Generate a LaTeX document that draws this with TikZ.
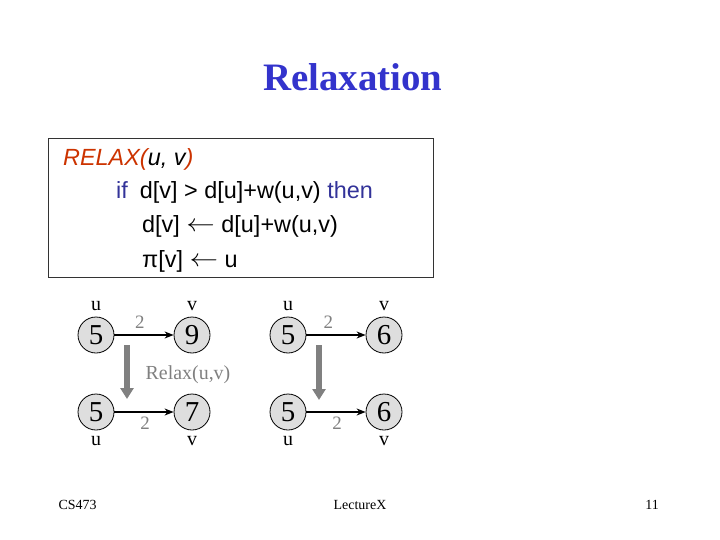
\documentclass[tikz,border=0pt]{standalone}
\usepackage{fontspec}
\setmainfont{Liberation Serif}
\newfontfamily\codefont{Liberation Sans}
\usepackage{xcolor}
\usepackage{tikz}
\usetikzlibrary{arrows.meta, positioning}

\definecolor{titleblue}{RGB}{51,51,204}
\definecolor{keyblue}{RGB}{51,51,153}
\definecolor{relaxred}{RGB}{204,51,0}

\newcommand{\getsarrow}{\raisebox{1bp}{\scalebox{1.15}[1]{$\leftarrow$}}}

\begin{document}
\begin{tikzpicture}[
        x=1bp, y=-1bp,
        vertex/.style={circle, draw=black, thick, fill=black!13, minimum size=36bp, inner sep=0pt, font=\fontsize{29}{29}\selectfont},
        vlabel/.style={inner sep=1bp, font=\fontsize{20}{20}\selectfont},
        weight/.style={text=black!50, inner sep=2bp, font=\fontsize{19}{19}\selectfont},
        edge/.style={-{Stealth[length=9bp, width=7bp]}, line width=1.4bp},
        relaxarrow/.style={-{Triangle[length=11bp, width=13bp]}, line width=6.5bp, draw=black!50},
        codeline/.style={anchor=base west, inner sep=0pt, font=\codefont\fontsize{23.5}{23.5}\selectfont},
        footer/.style={font=\fontsize{14}{14}\selectfont}
    ]
    \useasboundingbox (0,0) rectangle (720,540);

    % Title
    \node (title) at (353,77) {\fontsize{39}{39}\selectfont\bfseries\color{titleblue}Relaxation};

    % Pseudocode box
    \draw[black!80] (48,138) rectangle (433,277);
    \node (relax) [codeline] at (63,166) {\textcolor{relaxred}{\itshape RELAX(}\itshape u, v\textcolor{relaxred}{)}};
    \node (test) [codeline] at (116,199) {\textcolor{keyblue}{if}\hspace{12bp}d[v] > d[u]+w(u,v) \textcolor{keyblue}{then}};
    \node (update) [codeline] at (142,233) {d[v] \getsarrow{} d[u]+w(u,v)};
    \node (pred) [codeline] at (142,268) {π[v] \getsarrow{} u};

    % Left pair: before / after
    \node (u1) [vertex] at (96,335) {5};
    \node (v1) [vertex] at (192,335) {9};
    \node (u2) [vertex] at (96,412) {5};
    \node (v2) [vertex] at (192,412) {7};

    % Right pair: before / after
    \node (u3) [vertex] at (288,335) {5};
    \node (v3) [vertex] at (384,335) {6};
    \node (u4) [vertex] at (288,412) {5};
    \node (v4) [vertex] at (384,412) {6};

    % Vertex names
    \node [vlabel, above=5bp of u1] {u};
    \node [vlabel, above=5bp of v1] {v};
    \node [vlabel, above=5bp of u3] {u};
    \node [vlabel, above=5bp of v3] {v};
    \node [vlabel, below=5bp of u2] {u};
    \node [vlabel, below=5bp of v2] {v};
    \node [vlabel, below=5bp of u4] {u};
    \node [vlabel, below=5bp of v4] {v};

    % Edges
    \draw [edge] (u1) -- (v1) node[weight, pos=0.43, above=4bp] {2};
    \draw [edge] (u2) -- (v2) node[weight, pos=0.52, below=2bp] {2};
    \draw [edge] (u3) -- (v3) node[weight, pos=0.37, above=4bp] {2};
    \draw [edge] (u4) -- (v4) node[weight, pos=0.52, below=2bp] {2};

    % Relax steps
    \coordinate (s1) at (127,345);
    \coordinate (e1) at (127,399);
    \coordinate (s2) at (319,345);
    \coordinate (e2) at (319,400);
    \draw [relaxarrow] (s1) -- (e1);
    \draw [relaxarrow] (s2) -- (e2);
    \node (step) [text=black!50, font=\fontsize{20}{20}\selectfont] at (188,375) {Relax(u,v)};

    % Footer
    \node (course) [footer, anchor=west] at (55,505) {CS473};
    \node (lecture) [footer] at (360,505) {LectureX};
    \node (page) [footer] at (652,505) {11};
\end{tikzpicture}
\end{document}
